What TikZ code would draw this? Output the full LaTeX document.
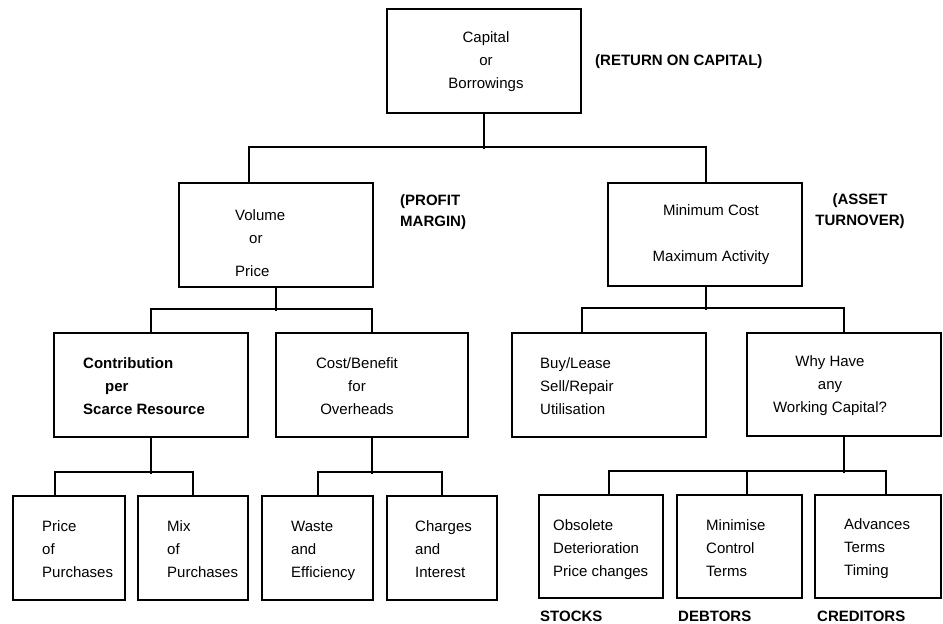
\documentclass[tikz,border=0pt]{standalone}
\usepackage{fontspec}
\setmainfont{Liberation Sans}
\begin{document}
\begin{tikzpicture}[x=1pt,y=-1pt,
  box/.style={draw,line width=1.6pt,inner sep=0pt},
  txt/.style={inner sep=0pt,font=\fontsize{15}{23}\selectfont},
  lbl/.style={inner sep=0pt,font=\fontsize{15}{21}\selectfont\bfseries},
  link/.style={line width=1.6pt}]
\useasboundingbox (0,0) rectangle (943,624);
% boxes
\node[box,minimum width=194pt,minimum height=104pt] (cap) at (484,61) {};
\node[box,minimum width=194pt,minimum height=104pt] (vol) at (276,235) {};
\node[box,minimum width=194pt,minimum height=103pt] (minc) at (705,234.5) {};
\node[box,minimum width=194pt,minimum height=104pt] (contr) at (151,385) {};
\node[box,minimum width=192pt,minimum height=104pt] (cost) at (372,385) {};
\node[box,minimum width=194pt,minimum height=104pt] (buy) at (609,385) {};
\node[box,minimum width=194pt,minimum height=103pt] (why) at (844,384.5) {};
\node[box,minimum width=112pt,minimum height=104pt] (price) at (69,548) {};
\node[box,minimum width=110pt,minimum height=104pt] (mix) at (193,548) {};
\node[box,minimum width=111pt,minimum height=104pt] (waste) at (317.5,548) {};
\node[box,minimum width=110pt,minimum height=104pt] (charg) at (442,548) {};
\node[box,minimum width=124pt,minimum height=103pt] (obs) at (601,546.5) {};
\node[box,minimum width=125pt,minimum height=103pt] (mini) at (739.5,546.5) {};
\node[box,minimum width=126pt,minimum height=103pt] (adv) at (878,546.5) {};
% texts
\node[txt,align=center] (tcap) at (486,62) {Capital\\or\\Borrowings};
\node[txt,align=left,anchor=west] (tvol) at (235,243) {Volume\\\hspace{14pt}or\\[10pt]Price};
\node[txt,align=center] (tminc) at (711,235) {Minimum Cost\\[23pt]Maximum Activity};
\node[txt,align=left,anchor=west,font=\fontsize{15}{23}\selectfont\bfseries] (tcontr) at (83,386) {Contribution\\\hspace{22pt}per\\Scarce Resource};
\node[txt,align=center] (tcost) at (357,386) {Cost/Benefit\\for\\Overheads};
\node[txt,align=left,anchor=west] (tbuy) at (540,386) {Buy/Lease\\Sell/Repair\\Utilisation};
\node[txt,align=center] (twhy) at (830,386) {Why Have\\any\\Working Capital?};
\node[txt,align=left,anchor=west] (tprice) at (42,549) {Price\\of\\Purchases};
\node[txt,align=left,anchor=west] (tmix) at (167,549) {Mix\\of\\Purchases};
\node[txt,align=left,anchor=west] (twaste) at (291,551) {Waste\\and\\Efficiency};
\node[txt,align=left,anchor=west] (tcharg) at (415,549) {Charges\\and\\Interest};
\node[txt,align=left,anchor=west] (tobs) at (553,550) {Obsolete\\Deterioration\\Price changes};
\node[txt,align=left,anchor=west] (tmini) at (706,548) {Minimise\\Control\\Terms};
\node[txt,align=left,anchor=west] (tadv) at (844,549) {Advances\\Terms\\Timing};
% labels
\node[lbl,anchor=west] (lroc) at (595,62) {(RETURN ON CAPITAL)};
\node[lbl,align=left,anchor=west] (lpm) at (400,212.5) {(PROFIT\\MARGIN)};
\node[lbl,align=center] (lat) at (860,211.5) {(ASSET\\TURNOVER)};
\node[lbl,anchor=west] (lst) at (540,616) {STOCKS};
\node[lbl,anchor=west] (lde) at (678,616) {DEBTORS};
\node[lbl,anchor=west] (lcr) at (817,616) {CREDITORS};
% connectors
\draw[link] (cap.south) -- ++(0,35);
\draw[link] ([xshift=-27pt]vol.north) -- ++(0,-35) -| ([xshift=1pt]minc.north);
\draw[link] (vol.south) -- ++(0,23);
\draw[link] (contr.north) -- ++(0,-23) -| (cost.north);
\draw[link] ([xshift=1pt]minc.south) -- ++(0,23);
\draw[link] ([xshift=-27pt]buy.north) -- ++(0,-24) -| (why.north);
\draw[link] (contr.south) -- ++(0,36);
\draw[link] ([xshift=-14pt]price.north) -- ++(0,-23) -| (mix.north);
\draw[link] (cost.south) -- ++(0,36);
\draw[link] ([xshift=0.5pt]waste.north) -- ++(0,-23) -| (charg.north);
\draw[link] (why.south) -- ++(0,36);
\draw[link] ([xshift=8pt]obs.north) -- ++(0,-23) -| ([xshift=8pt]adv.north);
\draw[link] ([xshift=7.5pt]mini.north) -- ++(0,-23);
\end{tikzpicture}
\end{document}
